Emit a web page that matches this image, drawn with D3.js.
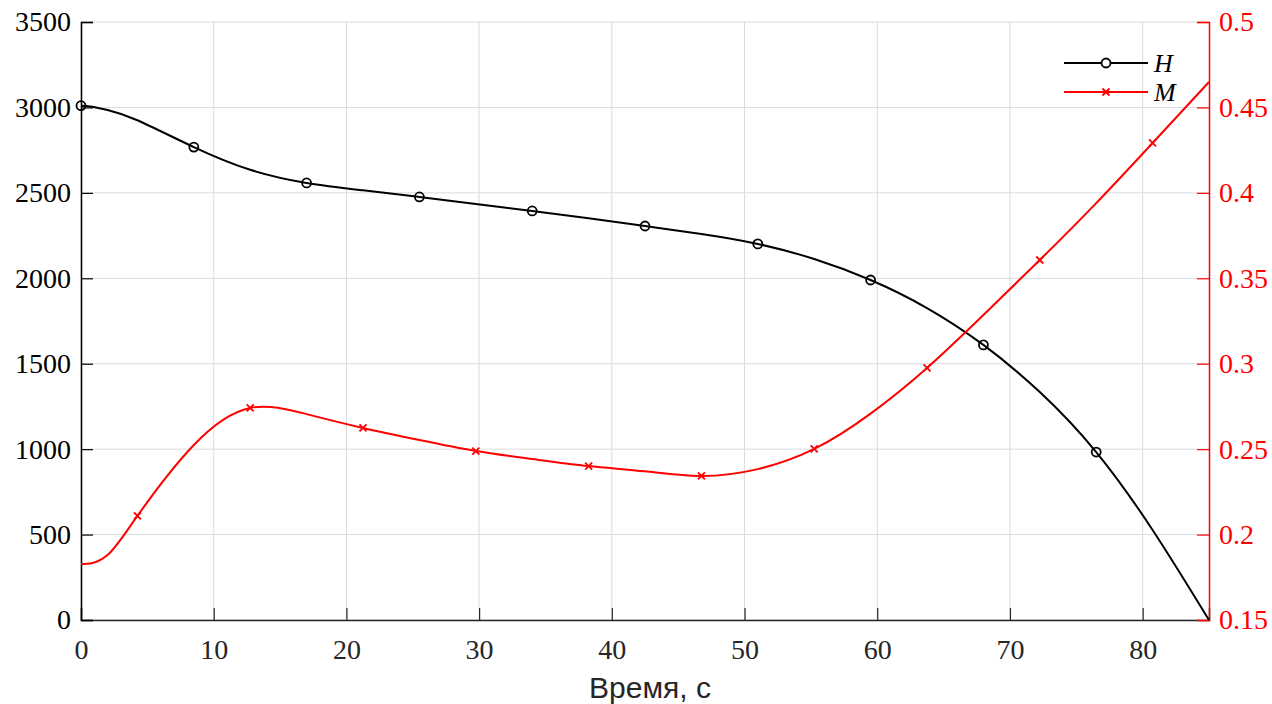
<!DOCTYPE html>
<html><head><meta charset="utf-8">
<script src="https://cdn.jsdelivr.net/npm/d3@7"></script>
<style>body{margin:0;background:#fff}svg{display:block}</style>
</head><body>
<script>
// Data
const hTime = [0, 2, 4.25, 8.5, 12.75, 17, 21.25, 25.5, 29.75, 34, 38.25, 42.5, 46.75, 51, 55.25, 59.5, 63.75, 68, 72.25, 76.5, 80.75, 85];
const hValues = [3010, 2985, 2925, 2768, 2635, 2558, 2515, 2476, 2435, 2394, 2352, 2306, 2259, 2201, 2113, 1990, 1826, 1610, 1334, 983, 527, 0];
const hMarkerTime = [0, 8.5, 17, 25.5, 34, 42.5, 51, 59.5, 68, 76.5];

const mTime = [0, 2, 4.25, 8.5, 12.75, 17, 21.25, 25.5, 29.75, 34, 38.25, 42.5, 46.75, 51, 55.25, 59.5, 63.75, 68, 72.25, 76.5, 80.75, 85];
const mValues = [0.1828, 0.1880, 0.2109, 0.2524, 0.2741, 0.2705, 0.2624, 0.2553, 0.2489, 0.2442, 0.2401, 0.2370, 0.2343, 0.2383, 0.2501, 0.2708, 0.2975, 0.3285, 0.3607, 0.3940, 0.4292, 0.4649];
const mMarkerTime = [4.25, 12.75, 21.25, 29.75, 38.25, 46.75, 55.25, 63.75, 72.25, 80.75];

const xTicks = [0, 10, 20, 30, 40, 50, 60, 70, 80];
const leftTicks = [0, 500, 1000, 1500, 2000, 2500, 3000, 3500];
const rightTicks = [0.15, 0.2, 0.25, 0.3, 0.35, 0.4, 0.45, 0.5];
const seriesNames = ["H", "M"];
const xLabel = "Время, с";

const W = 1272, H = 704;
const m = {l: 81, r: 63, t: 22, b: 84};
const svg = d3.select("body").append("svg").attr("width", W).attr("height", H);

const x = d3.scaleLinear().domain([0, 85]).range([m.l, W - m.r]);
const yL = d3.scaleLinear().domain([0, 3500]).range([H - m.b, m.t]);
const yR = d3.scaleLinear().domain([0.15, 0.5]).range([H - m.b, m.t]);

const serif = "'Liberation Serif','Times New Roman',serif";
const sans = "'Liberation Sans',Arial,sans-serif";
const grid = "#dcdcdc";
const fs = 28;

svg.append("clipPath").attr("id", "plotclip").append("rect")
  .attr("x", x(0)).attr("y", 0).attr("width", x(85) - x(0) + 2).attr("height", yL(0) + 2);

// grid
const g = svg.append("g");
g.selectAll(".gx").data(xTicks).join("line")
  .attr("x1", d => x(d)).attr("x2", d => x(d)).attr("y1", yL(0)).attr("y2", yL(3500))
  .attr("stroke", grid).attr("stroke-width", 1);
g.selectAll(".gy").data(leftTicks).join("line")
  .attr("x1", x(0)).attr("x2", x(85)).attr("y1", d => yL(d)).attr("y2", d => yL(d))
  .attr("stroke", grid).attr("stroke-width", 1);

// axes
const xAxis = svg.append("g").attr("transform", `translate(0,${yL(0)})`)
  .call(d3.axisBottom(x).tickValues(xTicks).tickSize(-12).tickPadding(19).tickFormat(d3.format("d")));
xAxis.select(".domain").attr("stroke", "#262626").attr("stroke-width", 1.5);
xAxis.selectAll(".tick line").attr("stroke", "#262626").attr("stroke-width", 1.2);
xAxis.selectAll("text").attr("font-family", serif).attr("font-size", fs).attr("fill", "#262626");

const lAxis = svg.append("g").attr("transform", `translate(${x(0)},0)`)
  .call(d3.axisLeft(yL).tickValues(leftTicks).tickSize(-12).tickPadding(10).tickFormat(d3.format("d")));
lAxis.select(".domain").attr("stroke", "#000").attr("stroke-width", 1.5);
lAxis.selectAll(".tick line").attr("stroke", "#000").attr("stroke-width", 1.2);
lAxis.selectAll("text").attr("font-family", serif).attr("font-size", fs).attr("fill", "#000");

const rAxis = svg.append("g").attr("transform", `translate(${x(85)},0)`)
  .call(d3.axisRight(yR).tickValues(rightTicks).tickSize(-12).tickPadding(10).tickFormat(d => String(+d.toFixed(2))));
rAxis.select(".domain").attr("stroke", "#ff0000").attr("stroke-width", 1.5);
rAxis.selectAll(".tick line").attr("stroke", "#ff0000").attr("stroke-width", 1.2);
rAxis.selectAll("text").attr("font-family", serif).attr("font-size", fs).attr("fill", "#ff0000");

svg.append("text").attr("x", (x(0) + x(85)) / 2 + 5).attr("y", 698).attr("text-anchor", "middle")
  .attr("font-family", sans).attr("font-size", 30).attr("fill", "#262626").text(xLabel);

// lines: mirror the second sample across t=0 so both curves start with zero slope, then clip to the plot
const withMirror = (ts, vs) => [[-ts[1], vs[1]]].concat(ts.map((t, i) => [t, vs[i]]));
const hData = withMirror(hTime, hValues);
const mData = withMirror(mTime, mValues);
const hLine = d3.line().x(d => x(d[0])).y(d => yL(d[1])).curve(d3.curveNatural);
const mLine = d3.line().x(d => x(d[0])).y(d => yR(d[1])).curve(d3.curveNatural);

const lines = svg.append("g").attr("clip-path", "url(#plotclip)");
const hPath = lines.append("path").datum(hData).attr("d", hLine)
  .attr("fill", "none").attr("stroke", "#000").attr("stroke-width", 2);
const mPath = lines.append("path").datum(mData).attr("d", mLine)
  .attr("fill", "none").attr("stroke", "#ff0000").attr("stroke-width", 2);

function yAt(pathNode, px) {
  const len = pathNode.getTotalLength();
  let lo = 0, hi = len;
  for (let k = 0; k < 40; k++) {
    const mid = (lo + hi) / 2;
    if (pathNode.getPointAtLength(mid).x < px) lo = mid; else hi = mid;
  }
  return pathNode.getPointAtLength((lo + hi) / 2).y;
}

// markers
hMarkerTime.forEach(t => {
  svg.append("circle").attr("cx", x(t)).attr("cy", yAt(hPath.node(), x(t))).attr("r", 4.5)
    .attr("fill", "none").attr("stroke", "#000").attr("stroke-width", 1.8);
});
const xm = (gSel, cx, cy, s) => {
  gSel.append("path").attr("d", `M${cx - s},${cy - s}L${cx + s},${cy + s}M${cx - s},${cy + s}L${cx + s},${cy - s}`)
    .attr("stroke", "#ff0000").attr("stroke-width", 1.8);
};
mMarkerTime.forEach(t => xm(svg, x(t), yAt(mPath.node(), x(t)), 3.5));

// legend
const lg = svg.append("g");
lg.append("line").attr("x1", 1064).attr("x2", 1148).attr("y1", 63).attr("y2", 63).attr("stroke", "#000").attr("stroke-width", 2);
lg.append("circle").attr("cx", 1106).attr("cy", 63).attr("r", 4.5).attr("fill", "#fff").attr("stroke", "#000").attr("stroke-width", 1.8);
lg.append("line").attr("x1", 1064).attr("x2", 1148).attr("y1", 92).attr("y2", 92).attr("stroke", "#ff0000").attr("stroke-width", 2);
xm(lg, 1106, 92, 3.5);
lg.selectAll("text").data(seriesNames).join("text")
  .attr("x", 1154).attr("y", (d, i) => 72 + i * 29)
  .attr("font-family", serif).attr("font-style", "italic").attr("font-size", 26).attr("fill", "#000").text(d => d);
</script>
</body></html>
